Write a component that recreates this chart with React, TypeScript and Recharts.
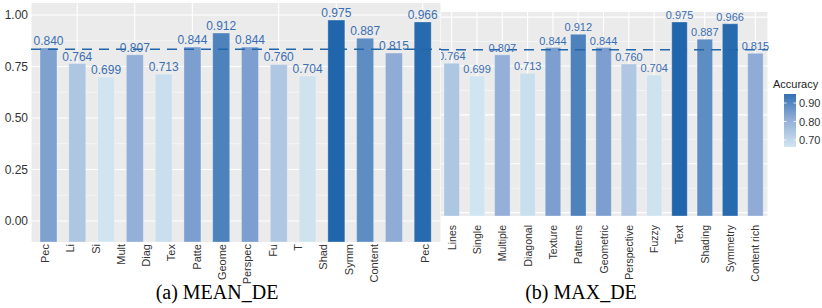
import { BarChart, Bar, XAxis, YAxis, CartesianGrid, ReferenceLine, LabelList, Cell } from 'recharts';

// panel (a): bar values, and the (clipped) tick labels as they appear under it
const leftKeys = ['Pec', 'Lines', 'Single', 'Multiple', 'Diagonal', 'Texture', 'Patterns', 'Geometric', 'Perspective', 'Fuzzy', 'Text', 'Shading', 'Content rich', 'Symmetry'];
const leftValues = [0.84, 0.764, 0.699, 0.807, 0.713, 0.844, 0.912, 0.844, 0.76, 0.704, 0.975, 0.887, 0.815, 0.966];
const leftTickLabels = ['Pec', 'Li', 'Si', 'Mult', 'Diag', 'Tex', 'Patte', 'Geome', 'Perspec', 'Fu', 'T', 'Shad', 'Symm', 'Content', '', 'Pec'];

// panel (b)
const rightCategories = ['Lines', 'Single', 'Multiple', 'Diagonal', 'Texture', 'Patterns', 'Geometric', 'Perspective', 'Fuzzy', 'Text', 'Shading', 'Symmetry', 'Content rich'];
const rightValues = [0.764, 0.699, 0.807, 0.713, 0.844, 0.912, 0.844, 0.76, 0.704, 0.975, 0.887, 0.966, 0.815];

const meanLine = 0.833;
const yTicks = [0, 0.25, 0.5, 0.75, 1];
const yMinor = [0.125, 0.375, 0.625, 0.875];
const legendTicks = [0.9, 0.8, 0.7];

const leftDomain: [number, number] = [-0.102, 1.058];
const rightDomain: [number, number] = [-0.017, 1.026];

const leftData = leftKeys.map((key, i) => ({ key, idx: i, value: leftValues[i] }));
const rightData = rightCategories.map((cat, i) => ({ cat, value: rightValues[i] }));

const FONT = '"Liberation Sans", Arial, sans-serif';
const LABEL_BLUE = '#3a6eb2';
const GRID_BG = '#ebebeb';

// fill scale, light -> dark blue
const stops: [number, number[]][] = [
  [0.7, [209, 229, 240]],
  [0.82, [141, 170, 213]],
  [0.975, [33, 102, 172]],
];
function colorFor(v: number) {
  let a = stops[0], b = stops[1];
  if (v > stops[1][0]) { a = stops[1]; b = stops[2]; }
  const t = Math.max(0, Math.min(1, (v - a[0]) / (b[0] - a[0])));
  const c = a[1].map((x, k) => Math.round(x + (b[1][k] - x) * t));
  return `rgb(${c[0]},${c[1]},${c[2]})`;
}

function RotTick({ x, y, payload, labels, size }: any) {
  const text = labels ? labels[payload.value] : payload.value;
  return (
    <text x={x} y={y} transform={`rotate(-90 ${x} ${y})`} textAnchor="end" dominantBaseline="central"
      fontSize={size} fill="#333" fontFamily={FONT}>{text}</text>
  );
}

function LeftPanel() {
  return (
    <BarChart width={441} height={300} data={leftData} margin={{ top: 3, right: 0, bottom: 0, left: 0 }}>
      <CartesianGrid xAxisId="bars" fill={GRID_BG} stroke="#fff" strokeWidth={1.1} horizontalValues={yTicks} />
      <CartesianGrid xAxisId="bars" stroke="#fff" strokeWidth={0.5} vertical={false} horizontalValues={yMinor} />
      <XAxis xAxisId="lab" type="number" dataKey="idx" domain={[-0.55, 15.65]} allowDataOverflow
        ticks={leftTickLabels.map((_, i) => i)} height={58} axisLine={false} tickLine={false}
        tickSize={0} tickMargin={2} interval={0}
        tick={<RotTick labels={leftTickLabels} size={11} />} />
      <XAxis xAxisId="bars" dataKey="key" hide height={0} padding={{ left: 3, right: 4 }} />
      <YAxis domain={leftDomain} allowDataOverflow ticks={yTicks} width={31} axisLine={false} tickLine={false}
        tickSize={3} tickMargin={0} tickFormatter={(v: number) => v.toFixed(2)}
        tick={{ fontSize: 12, fill: '#333', fontFamily: FONT }} />
      <Bar xAxisId="bars" dataKey={(d: any) => [leftDomain[0], d.value]} barSize={17} isAnimationActive={false}
        stroke="#fff" strokeOpacity={0.5} strokeWidth={0.6}>
        {leftData.map((d) => <Cell key={d.key} fill={colorFor(d.value)} />)}
        <LabelList position="top" offset={3} fill={LABEL_BLUE} fontSize={12} fontFamily={FONT}
          formatter={(v: any) => Number(v).toFixed(3)} />
      </Bar>
      <ReferenceLine xAxisId="bars" y={meanLine} stroke="#2166ac" strokeWidth={1.5} strokeDasharray="10 7" />
    </BarChart>
  );
}

function RightPanel() {
  return (
    <BarChart width={383} height={300} data={rightData} margin={{ top: 12, right: 54, bottom: 0, left: 0 }}>
      <CartesianGrid fill={GRID_BG} stroke="#fff" strokeWidth={1.1} horizontalValues={yTicks} />
      <CartesianGrid stroke="#fff" strokeWidth={0.5} vertical={false} horizontalValues={yMinor} />
      <XAxis dataKey="cat" height={84} axisLine={false} tickLine={false} tickSize={0} tickMargin={9} interval={0}
        tick={<RotTick size={10.5} />} />
      <YAxis hide domain={rightDomain} allowDataOverflow ticks={yTicks} />
      <Bar dataKey={(d: any) => [rightDomain[0], d.value]} barSize={15.5} isAnimationActive={false}
        stroke="#fff" strokeOpacity={0.5} strokeWidth={0.6}>
        {rightData.map((d) => <Cell key={d.cat} fill={colorFor(d.value)} />)}
        <LabelList position="top" offset={3} fill={LABEL_BLUE} fontSize={11} fontFamily={FONT}
          formatter={(v: any) => Number(v).toFixed(3)} />
      </Bar>
      <ReferenceLine y={meanLine} stroke="#2166ac" strokeWidth={1.5} strokeDasharray="10 7" />
    </BarChart>
  );
}

function Legend() {
  const top = 0.949, bottom = 0.662, h = 53;
  const yOf = (v: number) => ((top - v) / (top - bottom)) * h;
  return (
    <svg width={60} height={90} style={{ position: 'absolute', left: 770, top: 72 }}>
      <defs>
        <linearGradient id="acc" x1="0" y1="0" x2="0" y2="1">
          <stop offset="0%" stopColor={colorFor(top)} />
          <stop offset="45%" stopColor={colorFor(0.82)} />
          <stop offset="100%" stopColor={colorFor(bottom)} />
        </linearGradient>
      </defs>
      <text x={3} y={16} fontSize={11} fill="#222" fontFamily={FONT}>Accuracy</text>
      <g transform="translate(14,22)">
        <rect x={0} y={0} width={12} height={h} fill="url(#acc)" />
        {legendTicks.map((v) => (
          <g key={v}>
            <line x1={0} x2={2.5} y1={yOf(v)} y2={yOf(v)} stroke="#fff" strokeWidth={0.8} />
            <line x1={9.5} x2={12} y1={yOf(v)} y2={yOf(v)} stroke="#fff" strokeWidth={0.8} />
            <text x={15} y={yOf(v)} dominantBaseline="central" fontSize={11} fill="#333" fontFamily={FONT}>
              {v.toFixed(2)}
            </text>
          </g>
        ))}
      </g>
    </svg>
  );
}

export default function App() {
  const caption = { position: 'absolute' as const, top: 281, fontFamily: '"Liberation Serif", "Times New Roman", serif', fontSize: 20, color: '#000', whiteSpace: 'nowrap' as const, transform: 'translateX(-50%)' };
  return (
    <div style={{ position: 'absolute', left: 0, top: 0, width: 822, height: 308, background: '#fff', overflow: 'hidden' }}>
      <div style={{ position: 'absolute', left: 0, top: 0 }}>
        <LeftPanel />
      </div>
      <div style={{ position: 'absolute', left: 441, top: 0, width: 381, height: 308, background: '#fff', overflow: 'hidden' }}>
        <div style={{ position: 'absolute', left: -2, top: 0 }}>
          <RightPanel />
        </div>
      </div>
      <Legend />
      <div style={{ ...caption, left: 217 }}>(a) MEAN_DE</div>
      <div style={{ ...caption, left: 581 }}>(b) MAX_DE</div>
    </div>
  );
}
